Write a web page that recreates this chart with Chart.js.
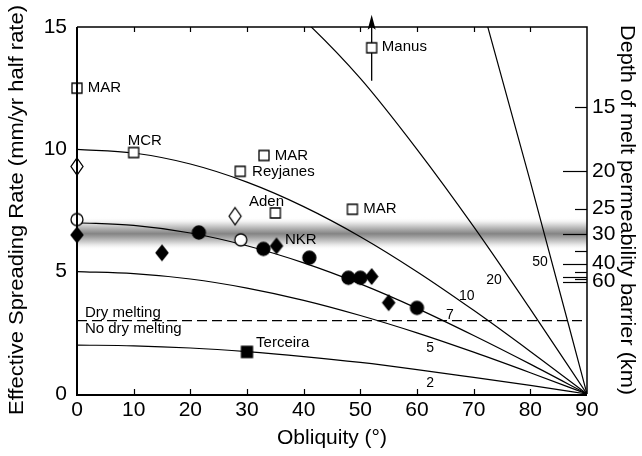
<!DOCTYPE html>
<html><head><meta charset="utf-8">
<script src="https://cdn.jsdelivr.net/npm/chart.js@4.4.1/dist/chart.umd.min.js"></script>
<style>html,body{margin:0;padding:0;background:#fff}#wrap{width:642px;height:456px}</style>
</head><body><div id="wrap"><canvas id="c" width="642" height="456"></canvas></div>
<script>
// ---------- data ----------
const obliquityGrid = [0, 10, 20, 30, 40, 50, 60, 70, 80, 90];
const curveNames = ['2', '5', '7', '10', '20', '50'];
const curve2  = [2.00, 1.97, 1.88, 1.73, 1.53, 1.29, 1.00, 0.68, 0.35, 0];
const curve5  = [5.00, 4.92, 4.70, 4.33, 3.83, 3.21, 2.50, 1.71, 0.87, 0];
const curve7  = [7.00, 6.89, 6.58, 6.06, 5.36, 4.50, 3.50, 2.39, 1.22, 0];
const curve10 = [10.0, 9.85, 9.40, 8.66, 7.66, 6.43, 5.00, 3.42, 1.74, 0];
const curve20 = [20.0, 19.7, 18.8, 17.3, 15.3, 12.9, 10.0, 6.84, 3.47, 0];
const curve50 = [50.0, 49.2, 47.0, 43.3, 38.3, 32.1, 25.0, 17.1, 8.68, 0];
const thresholdRate = 3;

const openSquareObliquity = [0, 10, 33, 28.8, 35, 48.6, 52];
const openSquareRate      = [12.5, 9.87, 9.75, 9.1, 7.4, 7.55, 14.15];
const openSquareNames     = ['MAR', 'MCR', 'MAR', 'Reyjanes', 'Aden', 'MAR', 'Manus'];
const filledSquareObliquity = [30];
const filledSquareRate      = [1.72];
const openDiamondObliquity = [0, 27.9];
const openDiamondRate      = [9.3, 7.27];
const openCircleObliquity = [0, 28.9];
const openCircleRate      = [7.13, 6.3];
const filledDiamondObliquity = [0, 15, 35.2, 52, 55];
const filledDiamondRate      = [6.5, 5.77, 6.05, 4.8, 3.73];
const filledCircleObliquity = [21.5, 32.9, 41, 47.9, 50, 60];
const filledCircleRate      = [6.6, 5.93, 5.57, 4.75, 4.75, 3.52];
const manusLowerRate = 12.8;
const manusUpperRate = 15.5;

const bandCenterRate = 6.55;
const bandHalfWidth = 0.68;

const xTickValues = [0, 10, 20, 30, 40, 50, 60, 70, 80, 90];
const yTickValues = [0, 5, 10, 15];
const depthTickLabels = ['15', '20', '25', '30', '40', '60'];
const depthTickRates  = [11.72, 9.10, 7.58, 6.52, 5.33, 4.59];
const depthMarkDepths = [15, 20, 25, 30, 35, 40, 45, 50, 55, 60];
const depthMarkRates  = [11.72, 9.10, 7.58, 6.52, 5.86, 5.33, 5.0, 4.80, 4.69, 4.59];

const regimeLabels = ['Dry melting', 'No dry melting'];
const otherLabels = ['NKR', 'Terceira'];

// ---------- layout of annotations (data coordinates) ----------
const squareLabelPos = [[1.9, 12.5], [8.96, 10.33], [34.9, 9.75], [30.9, 9.06], [30.35, 7.87], [50.5, 7.57], [53.8, 14.18]];
const otherLabelPos = [[36.7, 6.32], [31.6, 2.09]];
const regimeLabelPos = [[1.4, 3.31], [1.4, 2.66]];
const curveLabelPos = [[62.3, 0.45], [62.3, 1.89], [65.8, 3.24], [68.8, 4.0], [73.6, 4.67], [81.7, 5.37]];

const FONT = "'Liberation Sans', Arial, Helvetica, sans-serif";

function zip(xs, ys) { return xs.map((x, i) => ({x: x, y: ys[i]})); }

function marker(kind, filled, w, h) {
  const c = document.createElement('canvas');
  c.width = w + 4; c.height = h + 4;
  const g = c.getContext('2d');
  g.translate(c.width / 2, c.height / 2);
  g.beginPath();
  if (kind === 'square') g.rect(-w / 2, -h / 2, w, h);
  else if (kind === 'circle') g.ellipse(0, 0, w / 2, h / 2, 0, 0, Math.PI * 2);
  else { g.moveTo(0, -h / 2); g.lineTo(w / 2, 0); g.lineTo(0, h / 2); g.lineTo(-w / 2, 0); g.closePath(); }
  g.fillStyle = filled ? '#000' : '#fff';
  g.fill();
  g.lineWidth = 1.3; g.strokeStyle = '#000'; g.stroke();
  return c;
}

function pointSet(label, xs, ys, style) {
  return {label: label, data: zip(xs, ys), pointStyle: style, pointRadius: 6, showLine: false, clip: false, borderColor: '#000', backgroundColor: '#000'};
}
function curveSet(label, ys, extra) {
  return Object.assign({label: label, data: zip(obliquityGrid, ys), showLine: true, pointRadius: 0,
    borderColor: '#000', borderWidth: 1.2, cubicInterpolationMode: 'monotone'}, extra || {});
}

const datasets = [
  pointSet('open squares', openSquareObliquity, openSquareRate, marker('square', false, 10, 10)),
  pointSet('filled square', filledSquareObliquity, filledSquareRate, marker('square', true, 11, 11)),
  pointSet('open diamonds', openDiamondObliquity, openDiamondRate, marker('diamond', false, 12, 17)),
  pointSet('open circles', openCircleObliquity, openCircleRate, marker('circle', false, 12, 12)),
  pointSet('filled diamonds', filledDiamondObliquity, filledDiamondRate, marker('diamond', true, 12, 15)),
  pointSet('filled circles', filledCircleObliquity, filledCircleRate, marker('circle', true, 13, 13)),
  {label: 'dry melting', data: [{x: 0, y: thresholdRate}, {x: 90, y: thresholdRate}], showLine: true, pointRadius: 0,
    borderColor: '#000', borderWidth: 1.3, borderDash: [10, 5]},
  curveSet('2', curve2), curveSet('5', curve5), curveSet('7', curve7),
  curveSet('10', curve10), curveSet('20', curve20), curveSet('50', curve50)
];

const decor = {
  id: 'decor',
  beforeDatasetsDraw(chart) {
    const {ctx, chartArea: a, scales: {x, y}} = chart;
    // permeability band
    const yTop = y.getPixelForValue(bandCenterRate + bandHalfWidth);
    const yBot = y.getPixelForValue(bandCenterRate - bandHalfWidth);
    const gr = ctx.createLinearGradient(0, yTop, 0, yBot);
    gr.addColorStop(0, 'rgba(255,255,255,0)');
    gr.addColorStop(0.2, 'rgb(222,222,222)');
    gr.addColorStop(0.4, 'rgb(160,160,160)');
    gr.addColorStop(0.5, 'rgb(132,132,132)');
    gr.addColorStop(0.6, 'rgb(160,160,160)');
    gr.addColorStop(0.8, 'rgb(222,222,222)');
    gr.addColorStop(1, 'rgba(255,255,255,0)');
    ctx.save();
    ctx.fillStyle = gr;
    ctx.fillRect(a.left, yTop, a.right - a.left, yBot - yTop);
    // Manus arrow
    const mx = x.getPixelForValue(openSquareObliquity[6]);
    const y0 = y.getPixelForValue(manusLowerRate);
    const y1 = y.getPixelForValue(manusUpperRate);
    ctx.strokeStyle = '#000'; ctx.lineWidth = 1.3;
    ctx.beginPath(); ctx.moveTo(mx, y0); ctx.lineTo(mx, y1 + 12); ctx.stroke();
    ctx.fillStyle = '#000';
    ctx.beginPath(); ctx.moveTo(mx, y1); ctx.lineTo(mx + 4, y1 + 15); ctx.lineTo(mx, y1 + 12); ctx.lineTo(mx - 4, y1 + 15); ctx.closePath(); ctx.fill();
    ctx.restore();
  },
  afterDatasetsDraw(chart) {
    const {ctx, chartArea: a, scales: {x, y}} = chart;
    ctx.save();
    ctx.strokeStyle = '#000';
    // frame
    ctx.lineWidth = 1.5;
    ctx.beginPath(); ctx.moveTo(a.left, a.top); ctx.lineTo(a.right, a.top); ctx.lineTo(a.right, a.bottom); ctx.stroke();
    ctx.lineWidth = 2;
    ctx.beginPath(); ctx.moveTo(a.left, a.top); ctx.lineTo(a.left, a.bottom + 1); ctx.lineTo(a.right, a.bottom + 1); ctx.stroke();
    // x ticks (inward, top and bottom)
    ctx.lineWidth = 1.2;
    xTickValues.forEach(v => {
      if (v === 0 || v === 90) return;
      const px = Math.round(x.getPixelForValue(v)) + 0.5;
      ctx.beginPath();
      ctx.moveTo(px, a.top); ctx.lineTo(px, a.top + 5);
      ctx.moveTo(px, a.bottom); ctx.lineTo(px, a.bottom - 5);
      ctx.stroke();
    });
    // depth ticks on right axis
    depthMarkRates.forEach((r, i) => {
      const py = Math.round(y.getPixelForValue(r)) + 0.5;
      const len = depthMarkDepths[i] % 10 === 0 ? 24 : 12;
      ctx.beginPath(); ctx.moveTo(a.right - len, py); ctx.lineTo(a.right, py); ctx.stroke();
    });
    // labels
    ctx.fillStyle = '#000';
    ctx.textBaseline = 'middle';
    ctx.textAlign = 'left';
    ctx.font = '15px ' + FONT;
    openSquareNames.forEach((t, i) => {
      ctx.fillText(t, x.getPixelForValue(squareLabelPos[i][0]), y.getPixelForValue(squareLabelPos[i][1]));
    });
    otherLabels.forEach((t, i) => {
      ctx.fillText(t, x.getPixelForValue(otherLabelPos[i][0]), y.getPixelForValue(otherLabelPos[i][1]));
    });
    regimeLabels.forEach((t, i) => {
      ctx.fillText(t, x.getPixelForValue(regimeLabelPos[i][0]), y.getPixelForValue(regimeLabelPos[i][1]));
    });
    ctx.textAlign = 'center';
    ctx.font = '14px ' + FONT;
    curveNames.forEach((t, i) => {
      ctx.fillText(t, x.getPixelForValue(curveLabelPos[i][0]), y.getPixelForValue(curveLabelPos[i][1]));
    });
    // axis titles
    ctx.textBaseline = 'alphabetic';
    ctx.font = '21px ' + FONT;
    ctx.fillText('Obliquity (°)', (a.left + a.right) / 2, 444);
    ctx.font = '20px ' + FONT;
    const lt = 'Effective Spreading Rate (mm/yr half rate)';
    ctx.save();
    ctx.translate(23, 210); ctx.rotate(-Math.PI / 2);
    ctx.scale(410 / ctx.measureText(lt).width, 1);
    ctx.fillText(lt, 0, 0);
    ctx.restore();
    const rt = 'Depth of melt permeability barrier (km)';
    ctx.save();
    ctx.translate(621, 210); ctx.rotate(Math.PI / 2);
    ctx.scale(370 / ctx.measureText(rt).width, 1);
    ctx.fillText(rt, 0, 0);
    ctx.restore();
    ctx.restore();
  }
};

const tickFont = {family: FONT, size: 21};
new Chart(document.getElementById('c'), {
  type: 'scatter',
  data: {datasets: datasets},
  options: {
    responsive: false, animation: false, devicePixelRatio: 1, events: [],
    layout: {padding: {top: 27, left: 0, right: 0, bottom: 0}},
    plugins: {legend: {display: false}, tooltip: {enabled: false}},
    scales: {
      x: {type: 'linear', position: 'bottom', min: 0, max: 90,
        grid: {display: false, drawTicks: false}, border: {display: false},
        afterBuildTicks(s) { s.ticks = xTickValues.map(v => ({value: v})); },
        ticks: {font: tickFont, color: '#000', padding: 4, maxRotation: 0, autoSkip: false},
        afterFit(s) { s.height = 62; }},
      y: {type: 'linear', position: 'left', min: 0, max: 15,
        grid: {display: false, drawTicks: false}, border: {display: false},
        afterBuildTicks(s) { s.ticks = yTickValues.map(v => ({value: v})); },
        ticks: {font: tickFont, color: '#000', padding: 10, autoSkip: false},
        afterFit(s) { s.width = 77; }},
      y2: {type: 'linear', position: 'right', min: 0, max: 15,
        grid: {display: false, drawTicks: false}, border: {display: false},
        afterBuildTicks(s) { s.ticks = depthTickRates.map(v => ({value: v})); },
        ticks: {font: tickFont, color: '#000', padding: 5, autoSkip: false,
          callback: (v, i) => depthTickLabels[i]},
        afterFit(s) { s.width = 55; }}
    }
  },
  plugins: [decor]
});
</script>
</body></html>
